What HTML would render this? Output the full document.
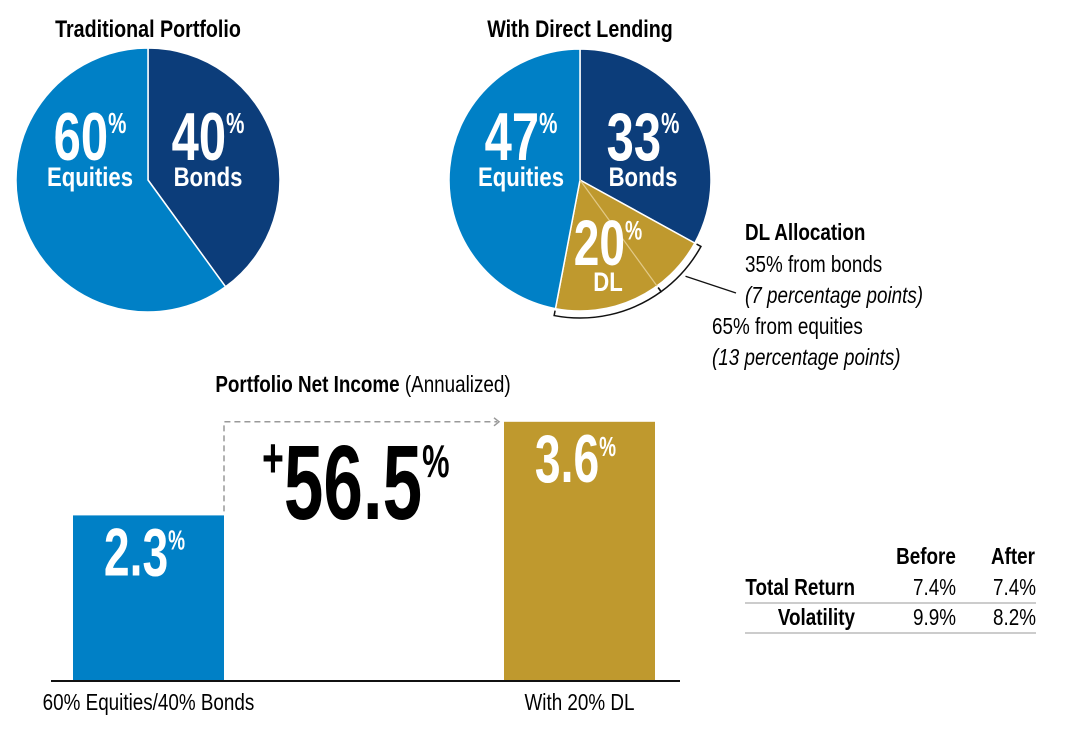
<!DOCTYPE html>
<html><head><meta charset="utf-8">
<style>
html,body{margin:0;padding:0;background:#fff;}
svg{display:block;font-family:"Liberation Sans Narrow","Liberation Sans",sans-serif;}
</style></head>
<body>
<svg id="chart" width="1091" height="730" viewBox="0 0 1091 730" xmlns="http://www.w3.org/2000/svg">
<g id="pies"></g>
<g id="bars"></g>
<g font-size="23">
  <text x="926" y="564" text-anchor="middle" font-weight="bold">Before</text>
  <text x="1013" y="564" text-anchor="middle" font-weight="bold">After</text>
  <text x="855" y="595" text-anchor="end" font-weight="bold">Total Return</text>
  <text x="956" y="595" text-anchor="end">7.4%</text>
  <text x="1036" y="595" text-anchor="end">7.4%</text>
  <line x1="745" y1="603" x2="1036" y2="603" stroke="#999"/>
  <text x="855" y="625" text-anchor="end" font-weight="bold">Volatility</text>
  <text x="956" y="625" text-anchor="end">9.9%</text>
  <text x="1036" y="625" text-anchor="end">8.2%</text>
  <line x1="745" y1="633" x2="1036" y2="633" stroke="#999"/>
</g>
</svg>
<script>
const NS="http://www.w3.org/2000/svg";
const pie1Labels=["Bonds","Equities"];
const pie1Values=[40,60];
const pie2Labels=["Bonds","DL","Equities"];
const pie2Values=[33,20,47];
const dlFromBonds=7;
const barCategories=["60% Equities/40% Bonds","With 20% DL"];
const barValues=[2.3,3.6];
const changeLabel="+56.5";

function mk(tag,attrs,parent){const e=document.createElementNS(NS,tag);for(const k in attrs)e.setAttribute(k,attrs[k]);parent.appendChild(e);return e;}
function pt(cx,cy,r,p){const a=p/100*2*Math.PI;return [cx+r*Math.sin(a),cy-r*Math.cos(a)];}
function arc(cx,cy,r,p0,p1){const a=pt(cx,cy,r,p0),b=pt(cx,cy,r,p1);const large=(p1-p0)>50?1:0;return `M${cx},${cy}L${a[0]},${a[1]}A${r},${r} 0 ${large} 1 ${b[0]},${b[1]}Z`;}
const colors={Bonds:"#0c3d7a",Equities:"#0080c6",DL:"#bf992e"};
const pies=document.getElementById('pies');

function bigLabel(g,x,y,val,name,size,sub){
  const t=mk('text',{x:x,y:y,'text-anchor':'middle',fill:'#fff','font-weight':'bold','font-size':size,'data-sx':0.72},g);
  
  
  t.textContent=val;
  const ts=mk('tspan',{'font-size':size*0.42,dy:-size*0.4},t);ts.textContent='%';
  const n=mk('text',{x:x,y:y+26,'text-anchor':'middle',fill:'#fff','font-weight':'bold','font-size':sub,'data-sx':0.82},g);
  
  
  n.textContent=name;
}

function drawPie(cx,cy,r,labels,values,title){
  const g=mk('g',{},pies);
  
  
  const tt=mk('text',{x:cx,y:37,'text-anchor':'middle','font-weight':'bold','font-size':24},g);
  
  
  tt.textContent=title;
  let acc=0;
  values.forEach((v,i)=>{
    const p=mk('path',{d:arc(cx,cy,r,acc,acc+v),fill:colors[labels[i]],stroke:'#fff','stroke-width':1.5},g);
    
    
    acc+=v;
  });
  return {g};
}

const P1=drawPie(148,180,132,pie1Labels,pie1Values,"Traditional Portfolio");
bigLabel(P1.g,208,160,pie1Values[0],pie1Labels[0],68,27);
bigLabel(P1.g,90,160,pie1Values[1],pie1Labels[1],68,27);

const P2=drawPie(580,180,131,pie2Labels,pie2Values,"With Direct Lending");
const split=pie2Values[0]+dlFromBonds;
const sp=pt(580,180,131,split);
const sl=mk('line',{x1:580,y1:180,x2:sp[0],y2:sp[1],stroke:'#e2c987','stroke-width':1.2},P2.g);


bigLabel(P2.g,643,160,pie2Values[0],pie2Labels[0],68,27);
bigLabel(P2.g,521,160,pie2Values[2],pie2Labels[2],68,27);
bigLabel(P2.g,608,265,pie2Values[1],pie2Labels[1],64,27);
function bracket(p0,p1,name){
  const r=138,a=pt(580,180,r,p0),b=pt(580,180,r,p1),a2=pt(580,180,r-5,p0),b2=pt(580,180,r-5,p1);
  const large=(p1-p0)>50?1:0;
  const path=mk('path',{d:`M${a2[0]},${a2[1]}L${a[0]},${a[1]}A${r},${r} 0 ${large} 1 ${b[0]},${b[1]}L${b2[0]},${b2[1]}`,fill:'none',stroke:'#111','stroke-width':1.5},P2.g);
  
  
}
bracket(pie2Values[0],split,'bonds-bracket');
bracket(split,pie2Values[0]+pie2Values[1],'equities-bracket');
const bm=pt(580,180,138,(pie2Values[0]+split)/2);
const ll=mk('line',{x1:bm[0]+2,y1:bm[1]+5,x2:736,y2:293,stroke:'#111','stroke-width':1.3},P2.g);


const ann=[["DL Allocation",745,240,'bold','normal'],["35% from bonds",745,272,'normal','normal'],["(7 percentage points)",745,303,'normal','italic'],["65% from equities",712,334,'normal','normal'],["(13 percentage points)",712,365,'normal','italic']];
ann.forEach(a=>{const t=mk('text',{x:a[1],y:a[2],'font-size':23,'font-weight':a[3],'font-style':a[4]},P2.g);
  
  
  t.textContent=a[0];});

const bars=document.getElementById('bars');
const base=681,scale=72,bw=151,bx=[73,504];
const y=v=>base-v*scale;
const bt=mk('text',{x:363,y:392,'text-anchor':'middle','font-size':23},bars);


bt.innerHTML='<tspan font-weight="bold">Portfolio Net Income</tspan> (Annualized)';
const bcol=["#0080c6","#bf992e"];
barValues.forEach((v,i)=>{
  const r=mk('rect',{x:bx[i],y:y(v),width:bw,height:v*scale,fill:bcol[i]},bars);
  
  
  const t=mk('text',{x:bx[i]+bw/2-4,y:y(v)+60,'text-anchor':'middle',fill:'#fff','font-weight':'bold','font-size':68,'data-sx':0.68},bars);
  
  
  t.textContent=v.toFixed(1);
  const ts=mk('tspan',{'font-size':28,dy:-26},t);ts.textContent='%';
  const c=mk('text',{x:bx[i]+bw/2,y:base+29,'text-anchor':'middle','font-size':23},bars);
  
  
  c.textContent=barCategories[i];
});
const ax=mk('line',{x1:51,y1:base,x2:680,y2:base,stroke:'#111','stroke-width':2},bars);


const x0=bx[0]+bw,yt=y(barValues[1]);
const dp=mk('path',{d:`M${x0},${y(barValues[0])-4}L${x0},${yt}L${bx[1]-7},${yt}`,fill:'none',stroke:'#999','stroke-width':1.5,'stroke-dasharray':'6,4'},bars);


const ah=mk('path',{d:`M${bx[1]-10},${yt-4}L${bx[1]-5},${yt}L${bx[1]-10},${yt+4}`,fill:'none',stroke:'#999','stroke-width':1.5},bars);


const ct=mk('text',{x:262,y:519,'font-weight':'bold','font-size':106,fill:'#000','data-sx':0.67},bars);


const cp=mk('tspan',{'font-size':56,dy:-42},ct);cp.textContent=changeLabel[0];
const cn=mk('tspan',{dy:42},ct);cn.textContent=changeLabel.slice(1);
const cpc=mk('tspan',{'font-size':46,dy:-42},ct);cpc.textContent='%';

document.querySelectorAll('#chart text').forEach(t=>{
  const sx=parseFloat(t.getAttribute('data-sx')||'0.82');
  const x=parseFloat(t.getAttribute('x')),yy=parseFloat(t.getAttribute('y'));
  t.setAttribute('transform',`translate(${x},${yy}) scale(${sx},1) translate(${-x},${-yy})`);
});
</script>
</body></html>
